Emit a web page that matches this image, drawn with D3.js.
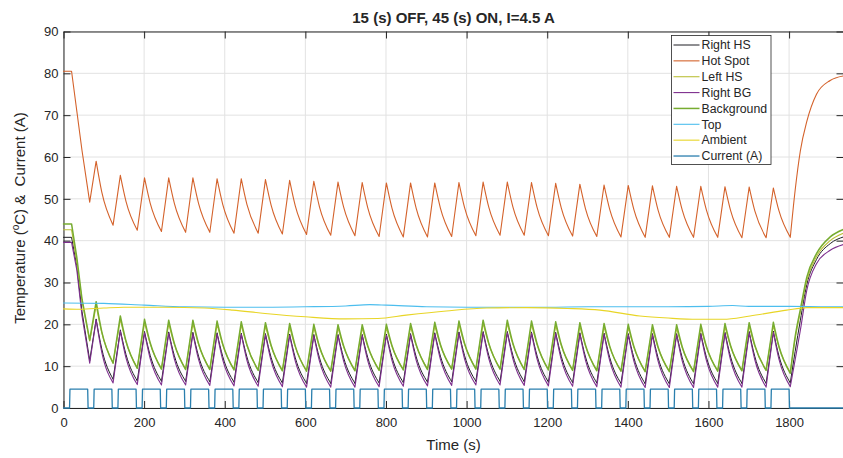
<!DOCTYPE html>
<html>
<head>
<meta charset='UTF-8'>
<title>15 (s) OFF, 45 (s) ON</title>
<script src='https://cdn.jsdelivr.net/npm/d3@7'></script>
<style>
  body {margin:0; background:#fff;}
  text {font-family:'Liberation Sans', Arial, Helvetica, sans-serif; fill:#262626;}
  .line {fill:none; stroke-linejoin:round; stroke-linecap:round;}
  .axis path, .axis line {stroke:#262626; stroke-width:1;}
  .grid line {stroke:#e2e2e2; stroke-width:1;}
</style>
</head>
<body>
<div id='chart'></div>
<script>
/* Ticks */
var xTicks = [0, 200, 400, 600, 800, 1000, 1200, 1400, 1600, 1800];
var yTicks = [0, 10, 20, 30, 40, 50, 60, 70, 80, 90];

/* Cycle key times (s): start plateau / first drop, troughs, peaks, knee of decay, final recovery */
var headTimes   = [0, 20, 33, 46];
var troughTimes = [65, 123, 183, 243, 303, 363, 423, 483, 543, 603, 663, 723, 783, 843, 903, 963, 1023, 1083, 1143, 1203, 1263, 1323, 1383, 1443, 1503, 1563, 1623, 1683, 1743, 1803];
var peakTimes   = [81, 141, 201, 261, 321, 381, 441, 501, 561, 621, 681, 741, 801, 861, 921, 981, 1041, 1101, 1161, 1221, 1281, 1341, 1401, 1461, 1521, 1581, 1641, 1701, 1761];
var kneeTimes   = [95, 155, 215, 275, 335, 395, 455, 515, 575, 635, 695, 755, 815, 875, 935, 995, 1055, 1115, 1175, 1235, 1295, 1355, 1415, 1475, 1535, 1595, 1655, 1715, 1775];
var tailTimes   = [1815, 1828, 1844, 1868, 1902, 1935];

/* Right HS */
var rightHSHead    = [40.8, 40.8, 34.0, 23.0];
var rightHSTroughs = [11.4, 6.9, 6.5, 6.4, 6.4, 6.3, 6.2, 6.1, 6.0, 5.9, 5.9, 5.9, 6.0, 6.1, 6.2, 6.3, 6.4, 6.4, 6.3, 6.2, 6.1, 6.0, 5.9, 5.8, 5.8, 5.8, 5.9, 5.9, 5.9, 6.0];
var rightHSPeaks   = [21.2, 18.6, 18.2, 18.1, 18.0, 17.9, 17.8, 17.7, 17.6, 17.5, 17.5, 17.5, 17.6, 17.7, 17.9, 18.1, 18.2, 18.2, 18.1, 18.0, 17.9, 17.8, 17.7, 17.7, 17.7, 17.8, 18.0, 18.2, 18.3];
var rightHSKnees   = [14.1, 12.8, 12.6, 12.5, 12.4, 12.3, 12.2, 12.1, 12.0, 12.0, 12.0, 12.0, 12.1, 12.2, 12.4, 12.5, 12.6, 12.5, 12.4, 12.3, 12.2, 12.1, 12.0, 12.0, 12.0, 12.1, 12.2, 12.3, 12.4];
var rightHSTail    = [13.5, 21.0, 29.5, 35.5, 39.3, 40.9];

/* Hot Spot */
var hotSpotHead    = [80.5, 80.5, 71.0, 61.5];
var hotSpotTroughs = [49.2, 43.7, 42.5, 42.2, 42.0, 42.0, 41.8, 41.8, 41.6, 41.5, 41.3, 41.2, 41.0, 40.9, 40.9, 41.0, 41.2, 41.3, 41.3, 41.2, 41.1, 41.0, 40.9, 40.8, 40.8, 40.8, 40.8, 40.7, 40.7, 40.8];
var hotSpotPeaks   = [59.0, 55.6, 55.0, 55.0, 55.0, 54.8, 54.8, 54.6, 54.4, 54.2, 54.0, 53.9, 53.8, 53.8, 53.8, 53.9, 54.0, 54.0, 53.9, 53.7, 53.5, 53.3, 53.2, 53.1, 53.0, 53.0, 52.9, 52.8, 52.6];
var hotSpotKnees   = [51.6, 49.4, 49.0, 48.9, 48.9, 48.7, 48.7, 48.5, 48.3, 48.1, 48.0, 47.8, 47.7, 47.7, 47.8, 47.9, 48.0, 48.0, 47.9, 47.8, 47.6, 47.5, 47.4, 47.3, 47.3, 47.3, 47.2, 47.1, 47.1];
var hotSpotTail    = [52.0, 61.5, 68.5, 75.0, 78.3, 79.4];

/* Left HS */
var leftHSHead    = [42.6, 42.6, 35.0, 25.5];
var leftHSTroughs = [16.0, 10.8, 9.6, 9.4, 9.3, 9.3, 9.2, 9.1, 9.0, 8.9, 8.9, 9.0, 9.1, 9.2, 9.3, 9.4, 9.4, 9.4, 9.3, 9.2, 9.1, 9.0, 8.9, 8.8, 8.8, 8.8, 8.9, 9.0, 9.1, 8.5];
var leftHSPeaks   = [24.5, 21.2, 20.4, 20.2, 20.2, 20.0, 19.8, 19.6, 19.4, 19.2, 19.1, 19.1, 19.2, 19.4, 19.7, 20.0, 20.2, 20.2, 20.0, 19.8, 19.6, 19.4, 19.2, 19.1, 19.1, 19.2, 19.4, 19.6, 19.7];
var leftHSKnees   = [18.0, 15.8, 15.4, 15.2, 15.2, 15.1, 14.9, 14.8, 14.6, 14.5, 14.6, 14.6, 14.7, 14.9, 15.0, 15.2, 15.3, 15.2, 15.1, 14.9, 14.8, 14.6, 14.5, 14.4, 14.4, 14.5, 14.7, 14.8, 14.5];
var leftHSTail    = [16.5, 23.0, 30.5, 36.2, 40.0, 41.8];

/* Right BG */
var rightBGHead    = [39.6, 39.6, 33.0, 22.0];
var rightBGTroughs = [10.7, 6.0, 5.6, 5.5, 5.5, 5.4, 5.3, 5.2, 5.1, 5.0, 5.0, 5.0, 5.1, 5.2, 5.3, 5.4, 5.5, 5.5, 5.4, 5.3, 5.2, 5.1, 5.0, 4.9, 4.9, 4.9, 5.0, 5.0, 5.0, 5.1];
var rightBGPeaks   = [21.0, 18.4, 18.0, 17.9, 17.8, 17.7, 17.6, 17.5, 17.4, 17.3, 17.3, 17.3, 17.4, 17.5, 17.7, 17.9, 18.0, 18.0, 17.9, 17.8, 17.7, 17.6, 17.5, 17.5, 17.5, 17.6, 17.8, 18.0, 18.1];
var rightBGKnees   = [13.3, 12.0, 11.8, 11.7, 11.6, 11.5, 11.4, 11.3, 11.2, 11.2, 11.2, 11.2, 11.3, 11.4, 11.6, 11.7, 11.8, 11.7, 11.6, 11.5, 11.4, 11.3, 11.2, 11.2, 11.2, 11.3, 11.4, 11.5, 11.6];
var rightBGTail    = [11.5, 18.6, 28.2, 34.5, 37.7, 39.1];

/* Background */
var backgroundHead    = [44.0, 44.0, 36.0, 26.0];
var backgroundTroughs = [16.2, 10.7, 9.5, 9.3, 9.2, 9.2, 9.1, 9.0, 8.9, 8.8, 8.8, 8.9, 9.0, 9.1, 9.2, 9.3, 9.3, 9.3, 9.2, 9.1, 9.0, 8.9, 8.8, 8.7, 8.7, 8.7, 8.8, 8.9, 9.0, 8.3];
var backgroundPeaks   = [25.4, 22.0, 21.2, 21.0, 21.0, 20.8, 20.6, 20.4, 20.2, 20.0, 19.9, 19.9, 20.0, 20.2, 20.5, 20.8, 21.0, 21.0, 20.8, 20.6, 20.4, 20.2, 20.0, 19.9, 19.9, 20.0, 20.2, 20.4, 20.5];
var backgroundKnees   = [18.2, 16.0, 15.6, 15.4, 15.4, 15.3, 15.1, 15.0, 14.8, 14.7, 14.8, 14.8, 14.9, 15.1, 15.2, 15.4, 15.5, 15.4, 15.3, 15.1, 15.0, 14.8, 14.7, 14.6, 14.6, 14.7, 14.9, 15.0, 14.7];
var backgroundTail    = [17.0, 23.6, 31.3, 36.9, 40.9, 42.7];

/* Top */
var topTimes  = [0, 100, 200, 300, 400, 500, 600, 700, 760, 800, 900, 1000, 1100, 1200, 1300, 1400, 1500, 1600, 1660, 1700, 1800, 1900, 1935];
var topValues = [25.1, 25.0, 24.6, 24.2, 24.1, 24.1, 24.2, 24.4, 24.7, 24.6, 24.2, 24.1, 24.1, 24.1, 24.2, 24.2, 24.2, 24.3, 24.5, 24.3, 24.3, 24.2, 24.2];

/* Ambient */
var ambientTimes  = [0, 40, 100, 150, 250, 350, 420, 500, 600, 700, 780, 850, 950, 1050, 1150, 1250, 1331, 1430, 1500, 1571, 1637, 1703, 1794, 1844, 1935];
var ambientValues = [23.7, 23.6, 23.9, 24.1, 24.1, 23.9, 23.4, 22.6, 21.8, 21.3, 21.4, 22.2, 23.2, 23.9, 24.0, 23.8, 23.4, 22.0, 21.5, 21.2, 21.2, 22.0, 23.4, 24.0, 24.0];

/* Current (A) */
var pulseOn  = [15, 75, 135, 195, 255, 315, 375, 435, 495, 555, 615, 675, 735, 795, 855, 915, 975, 1035, 1095, 1155, 1215, 1275, 1335, 1395, 1455, 1515, 1575, 1635, 1695, 1755];
var pulseOff = [60, 120, 180, 240, 300, 360, 420, 480, 540, 600, 660, 720, 780, 840, 900, 960, 1020, 1080, 1140, 1200, 1260, 1320, 1380, 1440, 1500, 1560, 1620, 1680, 1740, 1800];
var currentLevel = 4.5;
var timeEnd = 1935;

var seriesNames  = ['Right HS', 'Hot Spot', 'Left HS', 'Right BG', 'Background', 'Top', 'Ambient', 'Current (A)'];
var seriesColors = ['#1e1e24', '#d4622b', '#bcc03a', '#7e2f8e', '#77ac30', '#4dbeee', '#e8d526', '#2a7fae'];
var seriesWidths = [1, 1.1, 1.1, 1.1, 1.5, 1.1, 1.1, 1.3];

/* Build segment tables: straight rises, smooth decays */
function pt(t, v) { return {t: t, v: v}; }
function sawtooth(head, troughs, peaks, knees, tail) {
  var first = headTimes.map(function(t, i) { return pt(t, head[i]); });
  first.push(pt(troughTimes[0], troughs[0]));
  var segs = [{smooth: false, pts: first}];
  peaks.forEach(function(p, k) {
    segs.push({smooth: false, pts: [pt(troughTimes[k], troughs[k]), pt(peakTimes[k], p)]});
    segs.push({smooth: true, pts: [pt(peakTimes[k], p), pt(kneeTimes[k], knees[k]), pt(troughTimes[k + 1], troughs[k + 1])]});
  });
  var last = troughs.length - 1;
  var end = [pt(troughTimes[last], troughs[last])];
  tailTimes.forEach(function(t, i) { end.push(pt(t, tail[i])); });
  segs.push({smooth: true, pts: end});
  return segs;
}
function pairs(times, values) {
  return [{smooth: true, pts: times.map(function(t, i) { return pt(t, values[i]); })}];
}
var currentPts = [pt(0, 0)];
pulseOn.forEach(function(on, i) {
  currentPts.push(pt(on, 0), pt(on + 1, currentLevel), pt(pulseOff[i], currentLevel), pt(pulseOff[i] + 1, 0));
});
currentPts.push(pt(timeEnd, 0));

var data = [
  sawtooth(rightHSHead, rightHSTroughs, rightHSPeaks, rightHSKnees, rightHSTail),
  sawtooth(hotSpotHead, hotSpotTroughs, hotSpotPeaks, hotSpotKnees, hotSpotTail),
  sawtooth(leftHSHead, leftHSTroughs, leftHSPeaks, leftHSKnees, leftHSTail),
  sawtooth(rightBGHead, rightBGTroughs, rightBGPeaks, rightBGKnees, rightBGTail),
  sawtooth(backgroundHead, backgroundTroughs, backgroundPeaks, backgroundKnees, backgroundTail),
  pairs(topTimes, topValues),
  pairs(ambientTimes, ambientValues),
  [{smooth: false, pts: currentPts}]
];

/* Layout */
var width = 843, height = 458;
var plotLeft = 63.5, plotRight = 843.5, plotTop = 31.5, plotBottom = 408;
var tickLen = 7;

var svg = d3.select('#chart').append('svg')
  .attr('width', width)
  .attr('height', height);

var xScale = d3.scaleLinear().domain([0, timeEnd]).range([plotLeft, plotRight]);
var yScale = d3.scaleLinear().domain([0, 90]).range([plotBottom, plotTop]);

/* Grid */
var grid = svg.append('g').attr('class', 'grid');
grid.selectAll('.gx').data(xTicks).enter().append('line')
  .attr('x1', d => xScale(d)).attr('x2', d => xScale(d))
  .attr('y1', plotTop).attr('y2', plotBottom);
grid.selectAll('.gy').data(yTicks).enter().append('line')
  .attr('x1', plotLeft).attr('x2', plotRight)
  .attr('y1', d => yScale(d)).attr('y2', d => yScale(d));

/* Axes (box with inward ticks) */
var fmt = d3.format('d');
svg.append('g').attr('class', 'x axis')
  .attr('transform', `translate(0, ${plotBottom})`)
  .call(d3.axisBottom(xScale).tickValues(xTicks).tickFormat(fmt).tickSizeInner(-tickLen).tickSizeOuter(0).tickPadding(9.5));
svg.append('g').attr('class', 'x axis')
  .attr('transform', `translate(0, ${plotTop})`)
  .call(d3.axisTop(xScale).tickValues(xTicks).tickSizeInner(-tickLen).tickSizeOuter(0).tickFormat(''));
svg.append('g').attr('class', 'y axis')
  .attr('transform', `translate(${plotLeft}, 0)`)
  .call(d3.axisLeft(yScale).tickValues(yTicks).tickFormat(fmt).tickSizeInner(-tickLen).tickSizeOuter(0).tickPadding(5));
svg.append('g').attr('class', 'y axis')
  .attr('transform', `translate(${plotRight}, 0)`)
  .call(d3.axisRight(yScale).tickValues(yTicks).tickSizeInner(-tickLen).tickSizeOuter(0).tickFormat(''));
svg.selectAll('.axis text')
  .style('font-family', "'Liberation Sans', Arial, Helvetica, sans-serif")
  .style('font-size', '13px')
  .attr('fill', '#262626');

/* Lines */
var straight = d3.line().x(d => xScale(d.t)).y(d => yScale(d.v));
var smooth = d3.line().x(d => xScale(d.t)).y(d => yScale(d.v)).curve(d3.curveMonotoneX);

svg.append('g').selectAll('.line')
  .data(data).enter()
  .append('path')
  .attr('class', 'line')
  .attr('d', segs => segs.map(s => (s.smooth ? smooth : straight)(s.pts)).join(''))
  .style('stroke', (d, i) => seriesColors[i])
  .style('stroke-width', (d, i) => seriesWidths[i]);

/* Title and labels */
svg.append('text')
  .attr('x', (plotLeft + plotRight) / 2).attr('y', 22.5)
  .attr('text-anchor', 'middle')
  .style('font-size', '15px').style('font-weight', 'bold')
  .attr('fill', '#000')
  .text('15 (s) OFF, 45 (s) ON, I=4.5 A');

svg.append('text')
  .attr('x', (plotLeft + plotRight) / 2).attr('y', 450)
  .attr('text-anchor', 'middle')
  .style('font-size', '15px')
  .text('Time (s)');

var ylab = svg.append('text')
  .attr('transform', 'rotate(-90)')
  .attr('x', -218).attr('y', 25)
  .attr('text-anchor', 'middle')
  .style('font-size', '15px');
ylab.append('tspan').text('Temperature (');
ylab.append('tspan').attr('dy', -6).style('font-size', '10px').text('o');
ylab.append('tspan').attr('dy', 6).text('C) & \u00a0Current (A)');

/* Legend */
var legend = svg.append('g').attr('class', 'legend');
legend.append('rect')
  .attr('x', 671.5).attr('y', 35.5)
  .attr('width', 99.5).attr('height', 129)
  .attr('fill', '#fff').attr('stroke', '#262626').attr('stroke-width', 0.8);
var rowStep = 15.86;
var rows = legend.selectAll('.row')
  .data(seriesNames).enter()
  .append('g')
  .attr('transform', (d, i) => `translate(0, ${45 + i * rowStep})`);
rows.append('line')
  .attr('x1', 673.5).attr('x2', 699.5)
  .attr('y1', 0).attr('y2', 0)
  .style('stroke', (d, i) => seriesColors[i])
  .style('stroke-width', (d, i) => seriesWidths[i]);
rows.append('text')
  .attr('x', 701.5).attr('y', 0).attr('dy', '0.35em')
  .style('font-size', '12.3px')
  .text(d => d);
</script>
</body>
</html>
